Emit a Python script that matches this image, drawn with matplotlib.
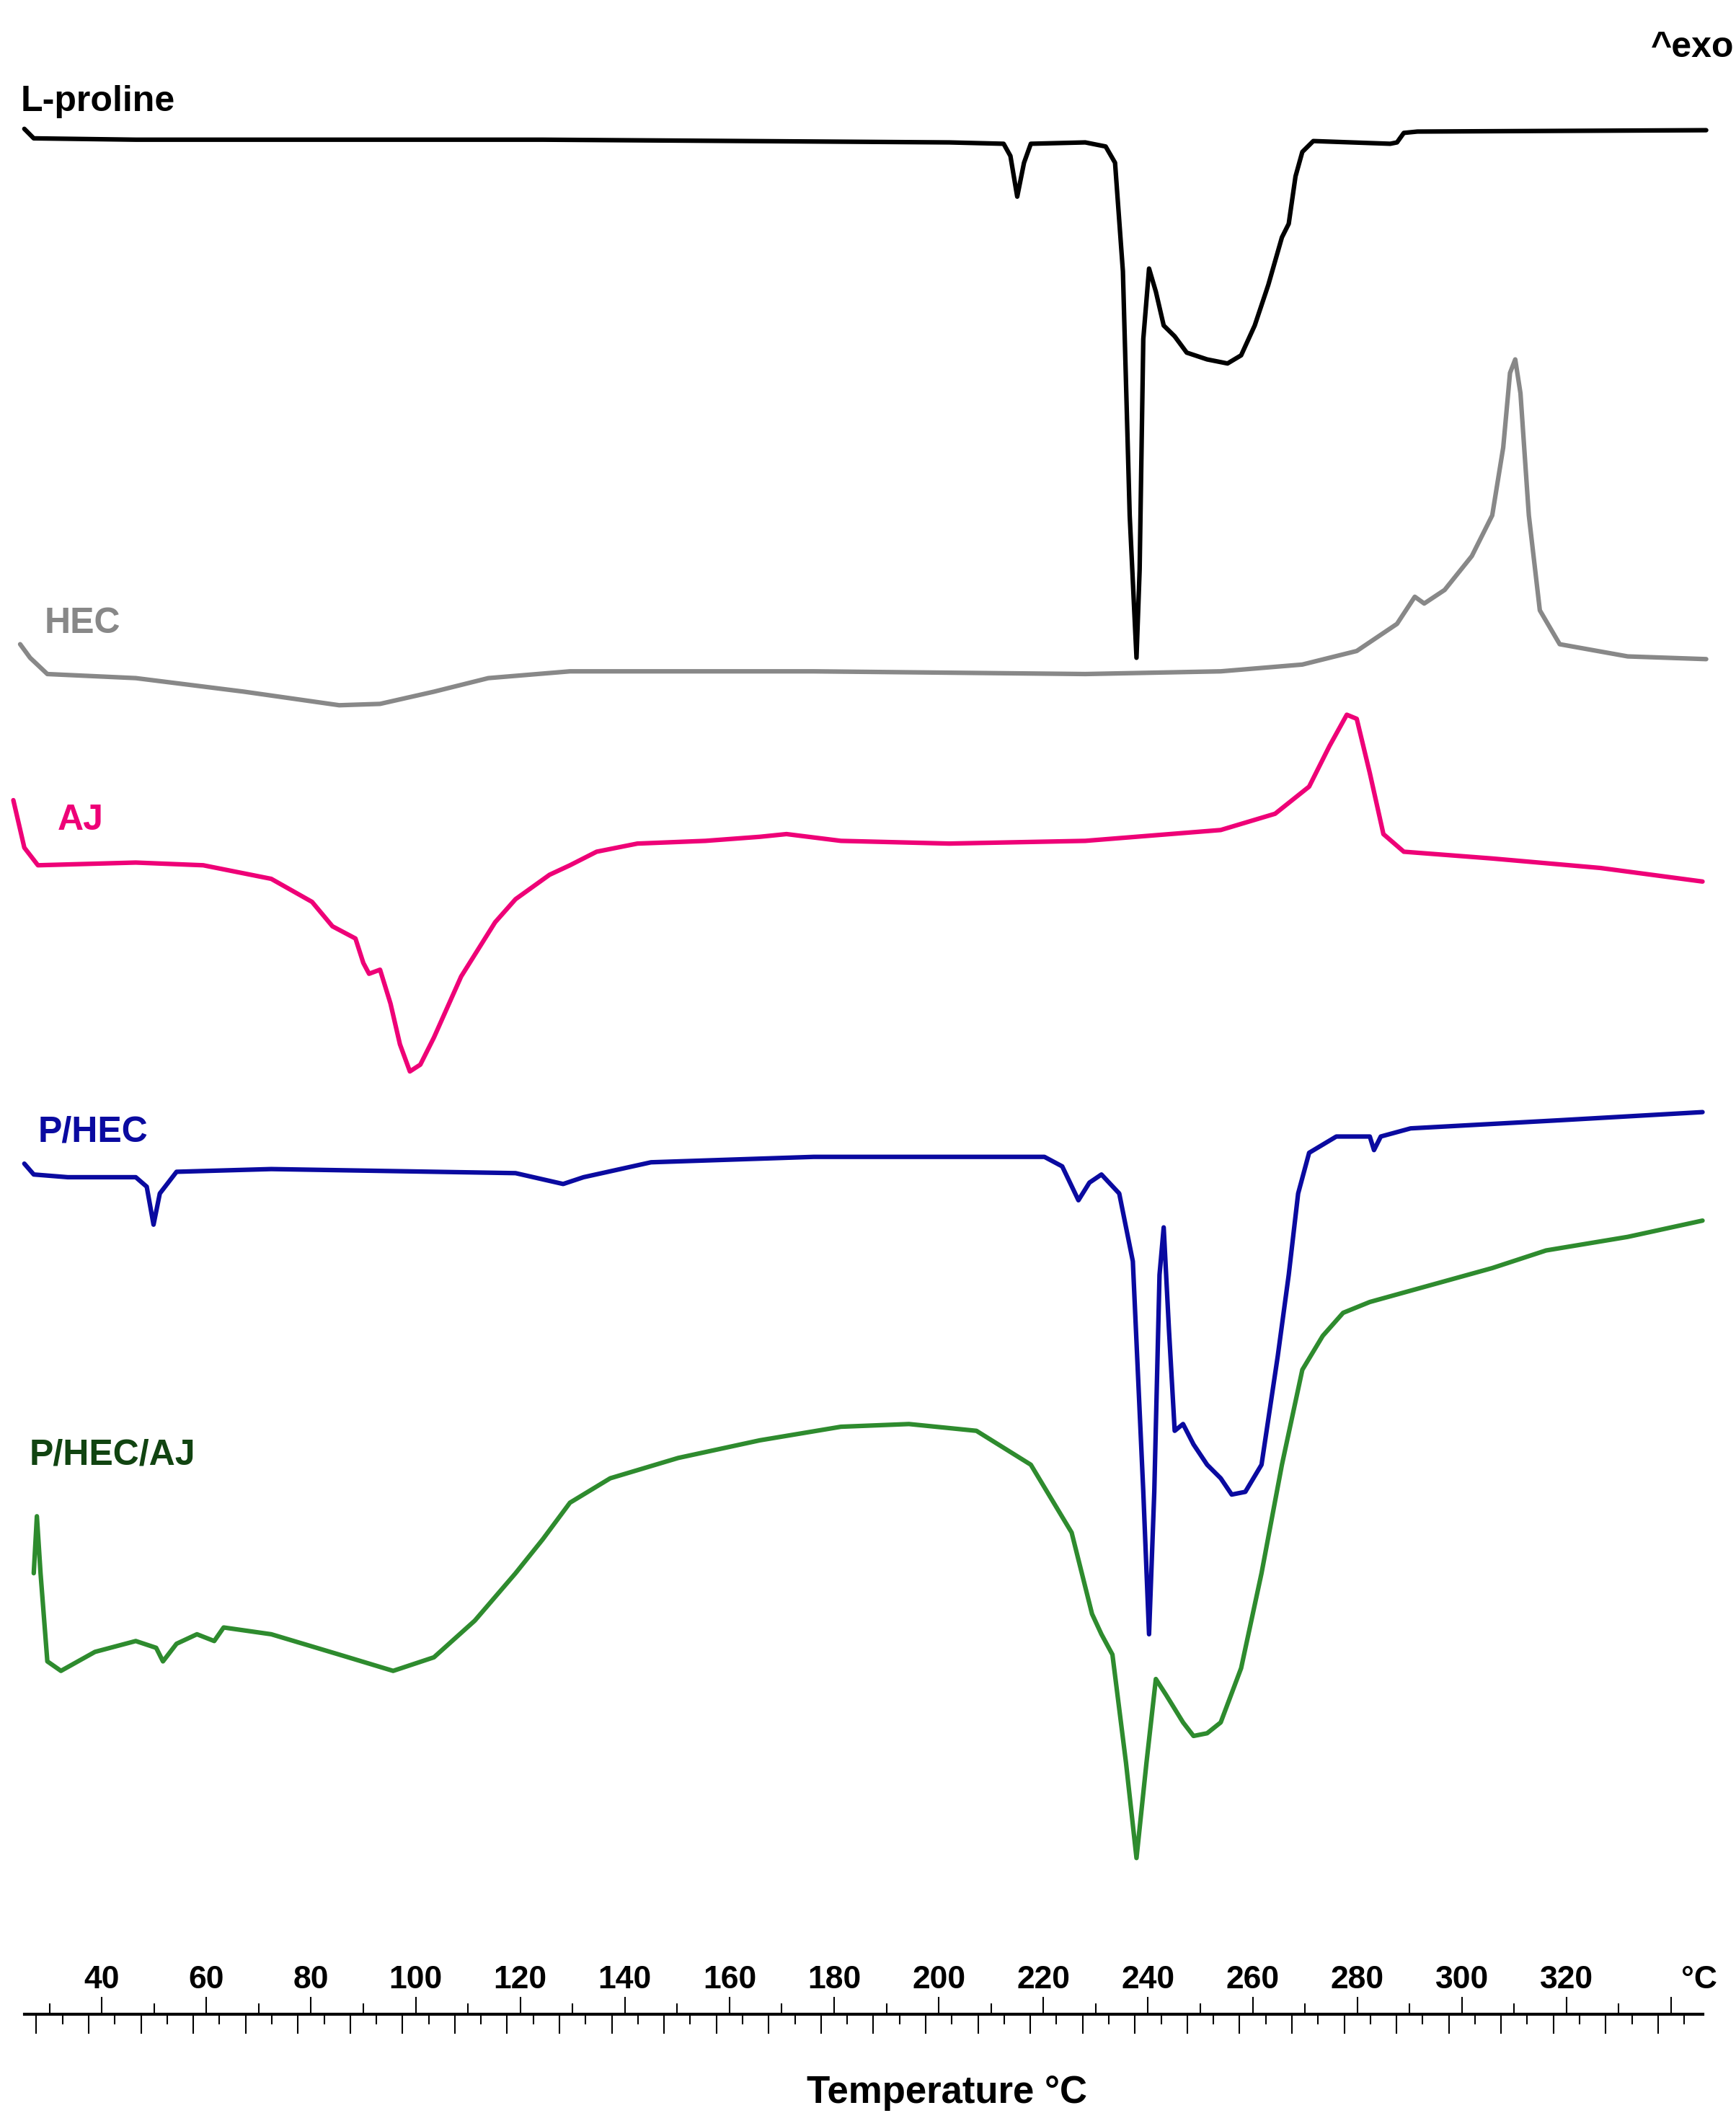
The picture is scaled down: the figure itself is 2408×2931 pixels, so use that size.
import matplotlib
matplotlib.use("Agg")
import matplotlib.pyplot as plt
import numpy as np

plt.rcParams['font.family'] = ['Liberation Sans', 'DejaVu Sans']

pro_T = [25.2,27.0,46.5,124.3,202.0,212.4,213.7,215.0,216.3,217.6,228.0,231.9,233.7,235.2,236.5,237.8,238.4,239.1,240.2,241.5,243.0,245.1,247.4,251.3,255.2,257.8,260.4,263.0,265.6,266.9,268.2,269.5,271.6,286.3,287.6,288.9,291.5,346.7]
pro_y = [95,102,103,103,105,106,115,145,120,106,105,108,120,200,380,485,420,250,198,215,240,248,260,265,268,262,240,210,175,165,130,112,104,106,105,98,97,96]
hec_T = [24.4,26.3,29.6,46.5,67.2,85.4,93.2,103.5,113.9,129.5,176.1,228.0,253.9,269.5,279.9,287.6,291.0,292.8,296.7,301.9,305.8,307.9,309.2,310.2,311.2,312.8,314.9,318.7,331.7,346.7]
hec_y = [475,485,497,500,510,520,519,510,500,495,495,497,495,490,480,460,440,445,435,410,380,330,275,265,290,380,450,475,484,486]
aj_T = [23.1,25.2,27.8,46.5,59.4,72.4,80.2,84.1,88.5,90.0,91.1,93.2,95.2,97.0,98.9,100.9,103.5,108.7,115.2,119.1,125.6,129.5,134.6,142.4,155.4,165.8,170.9,181.3,202.0,228.0,253.9,264.3,270.8,274.7,278.0,279.9,282.4,285.0,288.9,305.8,326.5,346.0]
aj_y = [590,625,638,636,638,648,665,683,692,710,718,715,740,770,790,785,765,720,680,663,645,638,628,622,620,617,615,620,622,620,612,600,580,550,527,530,570,615,628,633,640,650]
phec_T = [25.2,27.0,33.5,46.5,48.6,49.9,51.1,54.3,72.4,119.1,128.2,132.1,145.0,176.1,220.2,223.6,226.7,228.8,231.1,234.5,237.1,239.1,240.2,241.2,242.2,243.0,244.0,245.1,246.7,248.7,251.3,253.9,256.0,258.6,261.7,264.8,266.9,268.7,270.8,276.0,282.4,283.2,284.5,290.2,318.7,346.0]
phec_y = [858,866,868,868,875,903,880,864,862,865,873,868,857,853,853,860,885,872,866,880,930,1100,1205,1100,940,905,980,1055,1050,1065,1080,1090,1102,1100,1080,1000,940,880,850,838,838,848,838,832,826,820]
phaj_T = [27.0,27.6,28.3,29.6,32.2,38.7,46.5,50.4,51.7,54.3,58.2,61.5,63.3,72.4,85.4,95.7,103.5,111.3,119.1,124.3,129.5,137.2,150.2,165.8,181.3,194.3,207.2,217.6,225.4,229.3,231.1,233.2,235.8,237.8,239.7,241.5,243.5,245.1,246.7,248.7,251.3,253.9,257.8,261.7,265.6,269.5,273.4,277.3,282.4,305.8,316.1,331.7,346.0]
phaj_y = [1160,1118,1160,1225,1232,1218,1210,1215,1225,1212,1205,1210,1200,1205,1220,1232,1222,1195,1160,1135,1108,1090,1075,1062,1052,1050,1055,1080,1130,1190,1205,1220,1300,1370,1300,1238,1250,1260,1270,1280,1278,1270,1230,1160,1080,1010,985,968,960,935,922,912,900]

major_ticks = list(range(40, 330, 20))
tick_labels = [str(t) for t in major_ticks]

fig = plt.figure(figsize=(24.08, 29.31), dpi=100)
ax = fig.add_axes([0, 0, 1, 1])
ax.set_xlim(20.55, 352.4)
ax.set_ylim(1558, 0)
ax.axis("off")

kw = dict(lw=4.5, solid_joinstyle="round", solid_capstyle="round")
ax.plot(pro_T, pro_y, color="black", **kw)
ax.plot(hec_T, hec_y, color="#888888", **kw)
ax.plot(aj_T, aj_y, color="#ee0077", **kw)
ax.plot(phec_T, phec_y, color="#0a0aa0", **kw)
ax.plot(phaj_T, phaj_y, color="#2e8b2e", **kw)

fs = 36
ax.text(24.5, 75, "L-proline", fontsize=fs, fontweight="bold", color="black", va="center")
ax.text(352, 35, "^exo", fontsize=fs, fontweight="bold", color="black", va="center", ha="right")
ax.text(29.1, 460, "HEC", fontsize=fs, fontweight="bold", color="#888888", va="center")
ax.text(31.5, 605, "AJ", fontsize=fs, fontweight="bold", color="#ee0077", va="center")
ax.text(27.8, 835, "P/HEC", fontsize=fs, fontweight="bold", color="#0a0aa0", va="center")
ax.text(26.2, 1073, "P/HEC/AJ", fontsize=fs, fontweight="bold", color="#114411", va="center")

y0 = 1485
ax.plot([25.2, 346.0], [y0, y0], color="black", lw=3)
for t in range(30, 346, 10):
    up = 12 if t % 20 == 0 else 7
    ax.plot([t, t], [y0 - up, y0], color="black", lw=1.5)
for t in np.arange(27.5, 346, 5):
    dn = 14 if t % 10 == 7.5 else 7
    ax.plot([t, t], [y0, y0 + dn], color="black", lw=1.5)
for t, s in zip(major_ticks, tick_labels):
    ax.text(t, 1460, s, fontsize=32, fontweight="bold", ha="center", va="center")
ax.text(345.4, 1460, "°C", fontsize=32, fontweight="bold", ha="center", va="center")
ax.text(201.6, 1543, "Temperature °C", fontsize=38, fontweight="bold", ha="center", va="center")

fig.savefig("out.png", dpi=100)
